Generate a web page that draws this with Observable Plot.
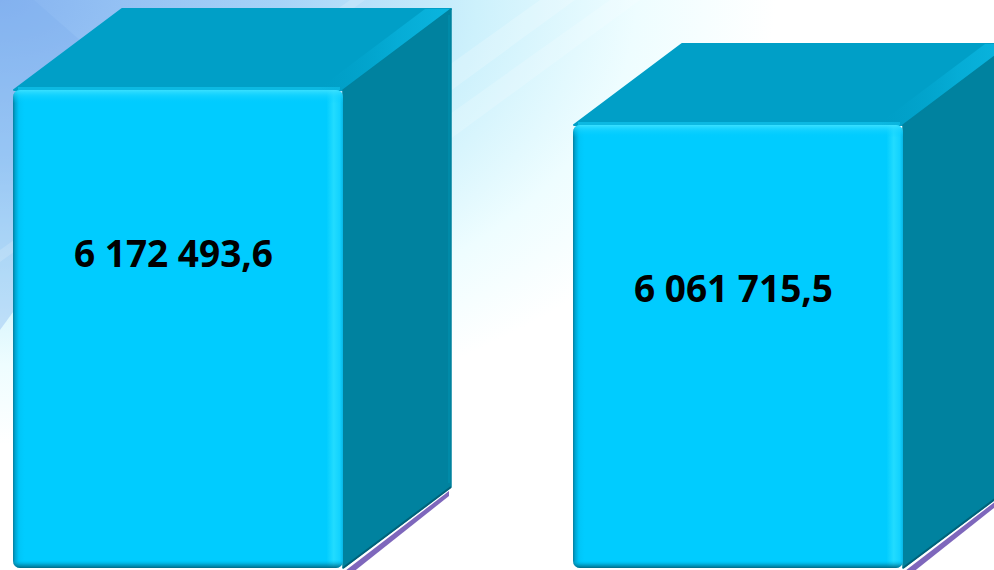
<!DOCTYPE html>
<html>
<head>
<meta charset="utf-8">
<script src="https://cdn.jsdelivr.net/npm/d3@7"></script>
<script src="https://cdn.jsdelivr.net/npm/@observablehq/plot@0.6"></script>
<style>
  html, body { margin: 0; padding: 0; background: #fff; overflow: hidden; }
  #chart svg { display: block; }
</style>
</head>
<body>
<div id="chart"></div>
<script>
// ---- data ----
const categories = ["Столбец 1", "Столбец 2"];
const values = [6172493.6, 6061715.5];
const valueLabels = ["6 172 493,6", "6 061 715,5"];
const baseValue = 4660000; // bars rise from a non-zero base

const data = categories.map((c, i) => ({category: c, value: values[i], label: valueLabels[i]}));

// ---- 3D look ----
const DEPTH_X = 108, DEPTH_Y = -81;

function backgroundMark(index, scales, values, dimensions) {
  const {width, height} = dimensions;
  const g = d3.create("svg:g");
  const defs = g.append("defs");

  const bg = defs.append("radialGradient").attr("id", "bgGrad")
    .attr("cx", 0).attr("cy", 0).attr("r", 1).attr("fx", 0).attr("fy", 0);
  [[0, "#86B3F0"], [0.28, "#A6D3F8"], [0.48, "#CDF1FC"], [0.64, "#EEFDFF"], [0.78, "#FFFFFF"], [1, "#FFFFFF"]]
    .forEach(([o, c]) => bg.append("stop").attr("offset", o).attr("stop-color", c));

  const fh = defs.append("linearGradient").attr("id", "frontH").attr("x1", 0).attr("x2", 1).attr("y1", 0).attr("y2", 0);
  [[0, "#04809E"], [0.007, "#00A6D4"], [0.018, "#00C6F8"], [0.035, "#00CCFF"], [0.95, "#00CCFF"],
   [0.972, "#22DCFF"], [0.99, "#12D2FF"], [1, "#08B6E6"]]
    .forEach(([o, c]) => fh.append("stop").attr("offset", o).attr("stop-color", c));

  const fv = defs.append("linearGradient").attr("id", "frontV").attr("x1", 0).attr("x2", 0).attr("y1", 0).attr("y2", 1);
  [[0, "#3FE2FF", 0.9], [0.012, "#20D6FF", 0.5], [0.028, "#00CCFF", 0], [0.982, "#00CCFF", 0],
   [0.993, "#007E9E", 0.55], [1, "#005F78", 0.9]]
    .forEach(([o, c, op]) => fv.append("stop").attr("offset", o).attr("stop-color", c).attr("stop-opacity", op));

  const bev = defs.append("linearGradient").attr("id", "bevel").attr("x1", 0).attr("x2", 1).attr("y1", 0).attr("y2", 0);
  [[0, "#00A0C8", 0], [0.6, "#08B2DC", 0.7], [1, "#0CB8E2", 0.9]]
    .forEach(([o, c, op]) => bev.append("stop").attr("offset", o).attr("stop-color", c).attr("stop-opacity", op));

  g.append("rect").attr("width", width).attr("height", height).attr("fill", "url(#bgGrad)");
  // bluish wedge in the corner
  g.append("path").attr("d", "M0,0L34,0L160,110L0,330Z").attr("fill", "#7FAEEE").attr("opacity", 0.35);
  // light diagonal streaks
  g.append("path").attr("d", "M120,300L540,0L575,0L150,310Z").attr("fill", "#fff").attr("opacity", 0.2);
  g.append("path").attr("d", "M20,420L610,0L640,0L40,440Z").attr("fill", "#fff").attr("opacity", 0.18);
  g.append("path").attr("d", "M0,250L350,0L365,0L0,262Z").attr("fill", "#fff").attr("opacity", 0.15);
  return g.node();
}

function depthMark(index, scales) {
  const x = scales.x, y = scales.y;
  const bw = x.bandwidth();
  const g = d3.create("svg:g");
  const yb = y(baseValue);
  data.forEach(d => {
    const x0 = x(d.category), x1 = x0 + bw, yt = y(d.value);
    // purple shadow under side face
    g.append("path")
      .attr("d", `M${x1 + 2},${yb + 3}L${x1 + DEPTH_X - 2},${yb + DEPTH_Y + 4}L${x1 + DEPTH_X - 2},${yb + DEPTH_Y + 9}L${x1 + 4},${yb + 9}Z`)
      .attr("fill", "#7E67BC");
    // top face
    g.append("path")
      .attr("d", `M${x0 + 1},${yt}L${x1},${yt}L${x1 + DEPTH_X},${yt + DEPTH_Y}L${x0 + DEPTH_X + 1},${yt + DEPTH_Y}Z`)
      .attr("fill", "#009FC7").attr("stroke", "#009FC7").attr("stroke-width", 2).attr("stroke-linejoin", "round");
    // light bevel along front top edge
    g.append("line").attr("x1", x0 + 5).attr("x2", x1 - 3).attr("y1", yt - 1.5).attr("y2", yt - 1.5)
      .attr("stroke", "#12C4EE").attr("stroke-width", 3).attr("opacity", 0.7);
    // light bevel strip along top/side edge (inside the top face)
    const w = 26;
    g.append("path")
      .attr("d", `M${x1 - w},${yt}L${x1},${yt}L${x1 + DEPTH_X},${yt + DEPTH_Y}L${x1 + DEPTH_X - w},${yt + DEPTH_Y}Z`)
      .attr("fill", "url(#bevel)");
    // side face
    g.append("path")
      .attr("d", `M${x1},${yt}L${x1 + DEPTH_X},${yt + DEPTH_Y}L${x1 + DEPTH_X},${yb + DEPTH_Y}L${x1},${yb}Z`)
      .attr("fill", "#00829F").attr("stroke", "#00829F").attr("stroke-width", 1.5).attr("stroke-linejoin", "round");
    // dark line along side bottom edge
    g.append("line").attr("x1", x1).attr("y1", yb).attr("x2", x1 + DEPTH_X).attr("y2", yb + DEPTH_Y)
      .attr("stroke", "#00627A").attr("stroke-width", 2);
    // slight shade stripe on the side near back
    g.append("line").attr("x1", x1 + DEPTH_X - 2).attr("y1", yt + DEPTH_Y + 6).attr("x2", x1 + DEPTH_X - 2).attr("y2", yb + DEPTH_Y - 4)
      .attr("stroke", "#0090AE").attr("stroke-width", 2).attr("opacity", 0.6);
  });
  return g.node();
}

const chart = Plot.plot({
  width: 994,
  height: 570,
  marginLeft: 13,
  marginRight: 91,
  marginTop: 90,
  marginBottom: 2,
  style: {background: "white", overflow: "hidden"},
  x: {domain: categories, paddingInner: 0.411, paddingOuter: 0, axis: null},
  y: {domain: [baseValue, d3.max(values)], axis: null},
  marks: [
    backgroundMark,
    depthMark,
    Plot.barY(data, {x: "category", y1: baseValue, y2: "value", fill: "url(#frontH)", rx: 7}),
    Plot.barY(data, {x: "category", y1: baseValue, y2: "value", fill: "url(#frontV)", rx: 7}),
    Plot.text(data, {
      x: "category", y: "value", text: "label", dy: 165, dx: -5,
      fontSize: 37, fontWeight: 700, fontFamily: "'Open Sans', sans-serif", fill: "#000"
    })
  ]
});
document.getElementById("chart").appendChild(chart);
</script>
</body>
</html>
